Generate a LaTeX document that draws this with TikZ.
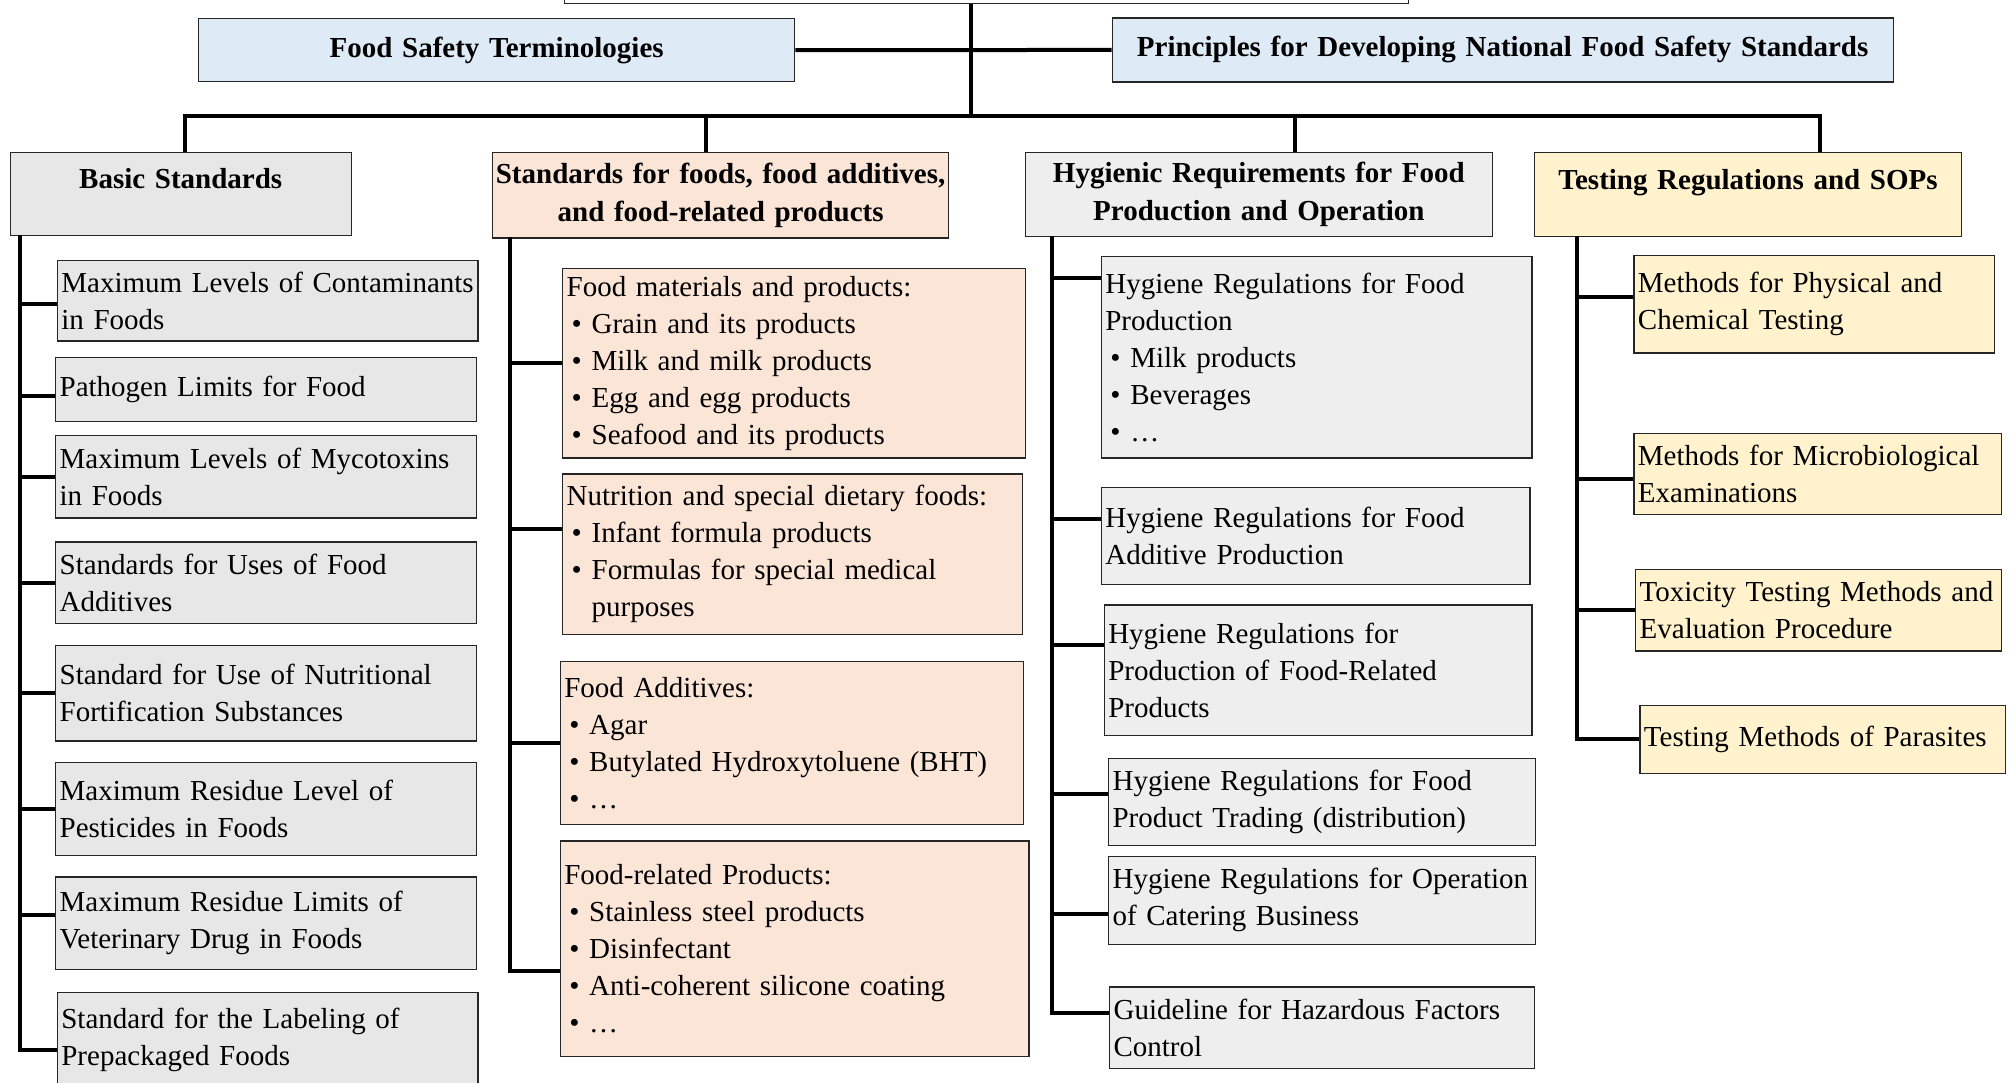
\documentclass[tikz,border=0pt]{standalone}
\usepackage{fontspec}
\setmainfont{Liberation Serif}
\usetikzlibrary{positioning}
\definecolor{headblue}{HTML}{DEEBF7}
\definecolor{basegray}{HTML}{E7E7E7}
\definecolor{foodpeach}{HTML}{FBE5D6}
\definecolor{hyggray}{HTML}{EEEEEE}
\definecolor{testyellow}{HTML}{FFF2CC}
\newcommand\itm[1]{\par\hangindent=25pt\hangafter=1\noindent\hbox to 25pt{\hskip5pt\textbullet\hfil}#1}
\tikzset{
  anybox/.style={draw=black!85, line width=1.3pt, anchor=north west, inner xsep=4pt, inner ysep=3pt},
  topbox/.style={anybox, fill=white},
  headbox/.style={anybox, align=center, font=\fontsize{29}{38.5}\selectfont\bfseries},
  leafbox/.style={anybox, align=left, font=\fontsize{29}{37}\selectfont},
  link/.style={line width=4pt, line join=miter}
}
\begin{document}
\begin{tikzpicture}[x=1pt, y=-1pt]
  \useasboundingbox (0,0) rectangle (2011,1083);
  % top level
  \node[topbox, minimum width=843.5pt, minimum height=90pt] (root) at (564,-87) {};
  \node[headbox, fill=headblue, text width=588pt, minimum height=63pt] (fst) at (198,18) {Food Safety Terminologies};
  \node[headbox, fill=headblue, text width=773pt, minimum height=64pt] (pr) at (1111.5,17.3) {Principles for Developing National Food Safety Standards};
  % groups
  \node[headbox, fill=basegray, text width=333pt, minimum height=83pt, text depth=31pt] (bs) at (9.6,151.7) {Basic Standards};
  \node[headbox, fill=foodpeach, inner xsep=0pt, text width=456pt, minimum height=85.6pt] (sf) at (492,151.7) {Standards for foods, food additives,\\and food-related products};
  \node[headbox, fill=hyggray, text width=459.5pt, minimum height=84pt] (hy) at (1024.5,151.7) {Hygienic Requirements for Food\\Production and Operation};
  \node[headbox, fill=testyellow, text width=418.7pt, minimum height=84.3pt, text depth=31pt] (tr) at (1534,151.7) {Testing Regulations and SOPs};
  % basic standards
  \node[leafbox, fill=basegray, text width=412.6pt, minimum height=80.4pt] (b1) at (56.7,260) {Maximum Levels of Contaminants\\in Foods};
  \node[leafbox, fill=basegray, text width=413pt, minimum height=63.5pt] (b2) at (55,357) {Pathogen Limits for Food};
  \node[leafbox, fill=basegray, text width=413pt, minimum height=82.7pt] (b3) at (55,434.6) {Maximum Levels of Mycotoxins\\in Foods};
  \node[leafbox, fill=basegray, text width=413pt, minimum height=81.6pt] (b4) at (55,541.2) {Standards for Uses of Food\\Additives};
  \node[leafbox, fill=basegray, text width=413pt, minimum height=95.7pt] (b5) at (55,644.6) {Standard for Use of Nutritional\\Fortification Substances};
  \node[leafbox, fill=basegray, text width=413pt, minimum height=92.5pt] (b6) at (55,762.1) {Maximum Residue Level of\\Pesticides in Foods};
  \node[leafbox, fill=basegray, text width=413pt, minimum height=92.4pt] (b7) at (55,876.4) {Maximum Residue Limits of\\Veterinary Drug in Foods};
  \node[leafbox, fill=basegray, text width=412.6pt, minimum height=95pt] (b8) at (56.7,991.7) {Standard for the Labeling of\\Prepackaged Foods};
  % foods, additives, related products
  \node[leafbox, fill=foodpeach, text width=454.6pt, minimum height=189.4pt] (f1) at (562,268) {Food materials and products:\itm{Grain and its products}\itm{Milk and milk products}\itm{Egg and egg products}\itm{Seafood and its products}\par};
  \node[leafbox, fill=foodpeach, text width=452pt, minimum height=160.5pt] (f2) at (562,473.2) {Nutrition and special dietary foods:\itm{Infant formula products}\itm{Formulas for special medical\newline purposes}\par};
  \node[leafbox, fill=foodpeach, text width=455.3pt, minimum height=163.2pt] (f3) at (559.6,660.9) {Food Additives:\itm{Agar}\itm{Butylated Hydroxytoluene (BHT)}\itm{…}\par};
  \node[leafbox, fill=foodpeach, text width=460.6pt, minimum height=215.5pt] (f4) at (559.6,840.4) {Food-related Products:\itm{Stainless steel products}\itm{Disinfectant}\itm{Anti-coherent silicone coating}\itm{…}\par};
  % hygienic requirements
  \node[leafbox, fill=hyggray, text width=422.7pt, minimum height=201.4pt] (h1) at (1100.7,256) {Hygiene Regulations for Food\\Production\itm{Milk products}\itm{Beverages}\itm{…}\par};
  \node[leafbox, fill=hyggray, text width=420.6pt, minimum height=96.8pt] (h2) at (1100.7,486.8) {Hygiene Regulations for Food\\Additive Production};
  \node[leafbox, fill=hyggray, text width=419.8pt, minimum height=130.6pt] (h3) at (1103.6,604.3) {Hygiene Regulations for\\Production of Food-Related\\Products};
  \node[leafbox, fill=hyggray, text width=419.1pt, minimum height=87.1pt] (h4) at (1107.9,757.7) {Hygiene Regulations for Food\\Product Trading (distribution)};
  \node[leafbox, fill=hyggray, text width=419.1pt, minimum height=88.1pt] (h5) at (1107.9,855.7) {Hygiene Regulations for Operation\\of Catering Business};
  \node[leafbox, fill=hyggray, text width=417pt, minimum height=81.6pt] (h6) at (1108.9,986.3) {Guideline for Hazardous Factors\\Control};
  % testing regulations
  \node[leafbox, fill=testyellow, text width=352.7pt, minimum height=97.6pt] (t1) at (1633.3,254.9) {Methods for Physical and\\Chemical Testing};
  \node[leafbox, fill=testyellow, text width=359.7pt, minimum height=81.2pt] (t2) at (1633.3,432.8) {Methods for Microbiological\\Examinations};
  \node[leafbox, fill=testyellow, text width=358pt, minimum height=81.5pt] (t3) at (1635,568.7) {Toxicity Testing Methods and\\Evaluation Procedure};
  \node[leafbox, fill=testyellow, text width=357.7pt, minimum height=68.1pt] (t4) at (1639.3,704.6) {Testing Methods of Parasites};
  % links
  \coordinate (trunk) at (971,116);
  \coordinate (busL) at (185,116); \coordinate (busF) at (706,116);
  \coordinate (busH) at (1295,116); \coordinate (busT) at (1820,116);
  \draw[link] (trunk |- root.south) -- (trunk);
  \draw[link] (fst.east) -- (pr.west);
  \draw[link] (busL |- bs.north) -- (busL) -- (busT) -- (busT |- tr.north);
  \draw[link] (busF) -- (busF |- sf.north);
  \draw[link] (busH) -- (busH |- hy.north);
  \coordinate (c1) at (20,235); \coordinate (c2) at (510,237);
  \coordinate (c3) at (1052,236); \coordinate (c4) at (1577,236);
  % branches, shifted to the reference heights
  \foreach \n/\s in {b1/-3,b2/-7,b3/0,b4/0,b5/0,b6/0,b7/8,b8/-10}
    \draw[link] ([yshift=\s pt]\n.west) -| (c1);
  \foreach \n/\s in {f1/0,f2/25,f3/0,f4/-22}
    \draw[link] ([yshift=\s pt]\n.west) -| (c2);
  \foreach \n/\s in {h1/79,h2/17,h3/25,h4/8,h5/-14,h6/15}
    \draw[link] ([yshift=\s pt]\n.west) -| (c3);
  \foreach \n/\s in {t1/7,t2/-5,t3/0,t4/0}
    \draw[link] ([yshift=\s pt]\n.west) -| (c4);
\end{tikzpicture}
\end{document}
